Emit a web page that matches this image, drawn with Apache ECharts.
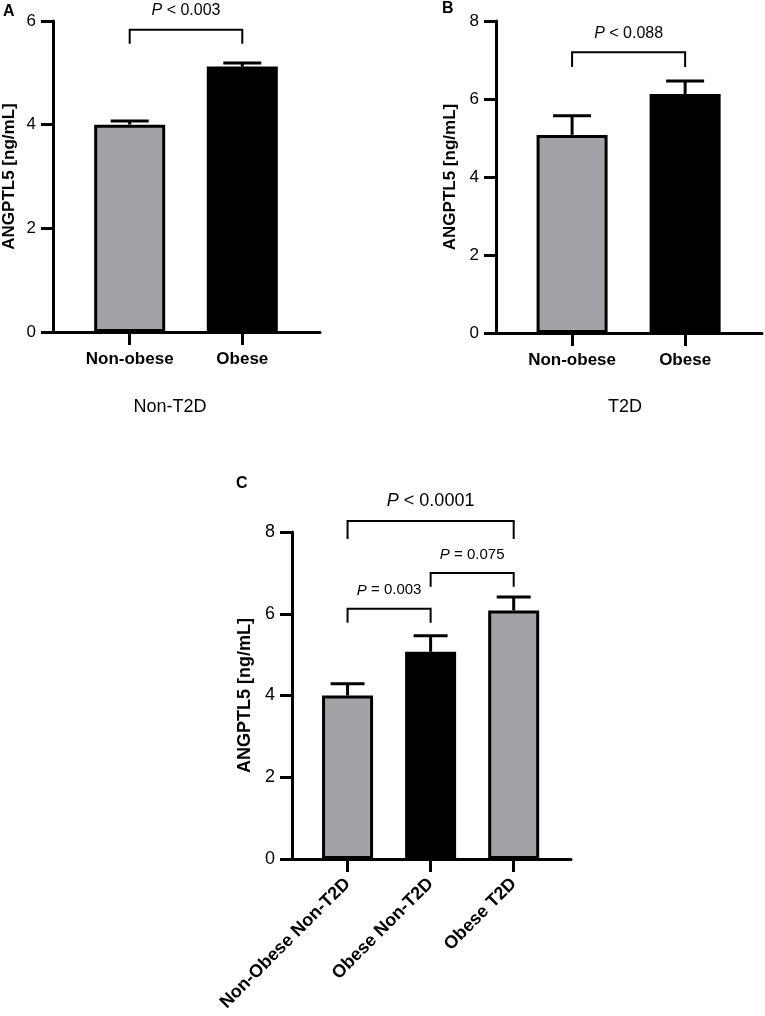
<!DOCTYPE html>
<html>
<head>
    <meta charset="utf-8">
    <title>ANGPTL5</title>
    <script src="https://cdn.jsdelivr.net/npm/echarts@6/dist/echarts.min.js"></script>
    <style>
    html, body { margin: 0; padding: 0; background: #fff; }
    #main { width: 765px; height: 1016px; }
    </style>
</head>
<body>
<div id="main"></div>
<script>
// values (mean and upper error)
const catsAB = ['Non-obese', 'Obese'];
const meanA = [4.0, 5.12];
const errA = [0.07, 0.07];
const meanB = [5.08, 6.13];
const errB = [0.49, 0.33];
const catsC = ['Non-Obese Non-T2D', 'Obese Non-T2D', 'Obese T2D'];
const meanC = [4.0, 5.07, 6.08];
const errC = [0.29, 0.39, 0.33];

// significance brackets: [from, to, top level, leg end]
const bracketA = [[0, 1, 5.83, 5.56]];
const pTextA = ['< 0.003'];
const bracketB = [[0, 1, 7.2, 6.82]];
const pTextB = ['< 0.088'];
const bracketC = [[0, 2, 8.27, 7.83], [0, 1, 6.12, 5.78], [1, 2, 7.0, 6.66]];
const pTextC = ['< 0.0001', '= 0.003', '= 0.075'];

const GRAY = '#a3a2a7';
const fillAB = [GRAY, '#000'];
const fillC = [GRAY, '#000', GRAY];
const FONT = 'Liberation Sans, Arial, sans-serif';

const chart = echarts.init(document.getElementById('main'));

function yAxis(idx, max, gap, fs) {
    return {
        type: 'value', gridIndex: idx, min: 0, max: max, interval: 2,
        name: 'ANGPTL5 [ng/mL]', nameLocation: 'middle', nameGap: gap,
        nameTextStyle: { fontFamily: FONT, fontWeight: 'bold', fontSize: fs, color: '#000' },
        axisLine: { show: true, onZero: false, lineStyle: { color: '#000', width: 3 } },
        axisTick: { show: true, length: 12, lineStyle: { color: '#000', width: 3 } },
        axisLabel: { fontFamily: FONT, fontSize: fs, color: '#000', margin: 17 },
        splitLine: { show: false }
    };
}

function xAxis(idx, cats, min, max) {
    const ticks = cats.map((c, i) => i);
    return {
        type: 'value', gridIndex: idx, min: min, max: max,
        axisLine: { show: true, onZero: false, lineStyle: { color: '#000', width: 3 } },
        axisTick: { show: true, customValues: ticks, length: 13, lineStyle: { color: '#000', width: 3 } },
        axisLabel: {
            customValues: ticks, formatter: v => cats[Math.round(v)] || '',
            fontFamily: FONT, fontWeight: 'bold', fontSize: 17, color: '#000', margin: 19
        },
        splitLine: { show: false }
    };
}

function bars(idx, means, fills, w) {
    return {
        type: 'bar', xAxisIndex: idx, yAxisIndex: idx, barWidth: w,
        data: means.map((m, i) => [i, m]),
        itemStyle: {
            color: p => fills[p.dataIndex],
            borderColor: '#000', borderWidth: 3
        },
        z: 2
    };
}

function errorBars(idx, means, errs, cap) {
    return {
        type: 'custom', xAxisIndex: idx, yAxisIndex: idx, z: 3,
        data: means.map((m, i) => [i, m, m + errs[i]]),
        renderItem: function (params, api) {
            const lo = api.coord([api.value(0), api.value(1)]);
            const hi = api.coord([api.value(0), api.value(2)]);
            const st = { stroke: '#000', lineWidth: 3 };
            return {
                type: 'group', children: [
                    { type: 'line', shape: { x1: lo[0], y1: lo[1], x2: hi[0], y2: hi[1] }, style: st },
                    { type: 'line', shape: { x1: hi[0] - cap / 2, y1: hi[1], x2: hi[0] + cap / 2, y2: hi[1] }, style: st }
                ]
            };
        }
    };
}

function brackets(idx, list, texts, fontSizes) {
    return {
        type: 'custom', xAxisIndex: idx, yAxisIndex: idx, z: 4, clip: false,
        data: list,
        renderItem: function (params, api) {
            const i = params.dataIndex;
            const a = api.coord([api.value(0), api.value(2)]);
            const b = api.coord([api.value(1), api.value(2)]);
            const la = api.coord([api.value(0), api.value(3)]);
            const fs = fontSizes[i];
            return {
                type: 'group', children: [
                    {
                        type: 'polyline',
                        shape: { points: [[la[0], la[1]], [a[0], a[1]], [b[0], b[1]], [b[0], la[1]]] },
                        style: { stroke: '#000', lineWidth: 2, fill: null }
                    },
                    {
                        type: 'text', x: (a[0] + b[0]) / 2, y: a[1] - 11,
                        style: {
                            text: '{i|P} ' + texts[i],
                            fontFamily: FONT, fontSize: fs, fill: '#000',
                            align: 'center', verticalAlign: 'bottom',
                            rich: { i: { fontFamily: FONT, fontSize: fs, fontStyle: 'italic', fill: '#000' } }
                        }
                    }
                ]
            };
        }
    };
}

const textStyle = (fs, weight) => ({ fontFamily: FONT, fontSize: fs, fontWeight: weight, fill: '#000' });

const option = {
    backgroundColor: '#fff',
    animation: false,
    grid: [
        { left: 52, top: 21, width: 268, height: 311 },
        { left: 496, top: 21, width: 266, height: 312 },
        { left: 292, top: 532, width: 279, height: 327 }
    ],
    xAxis: [
        xAxis(0, catsAB, -0.681, 1.69),
        xAxis(1, catsAB, -0.673, 1.68),
        xAxis(2, catsC, -0.669, 2.69)
    ],
    yAxis: [
        yAxis(0, 6, 35, 17),
        yAxis(1, 8, 37, 17),
        yAxis(2, 8, 38, 18)
    ],
    series: [
        bars(0, meanA, fillAB, 71),
        errorBars(0, meanA, errA, 38),
        brackets(0, bracketA, pTextA, [16]),
        bars(1, meanB, fillAB, 71),
        errorBars(1, meanB, errB, 38),
        brackets(1, bracketB, pTextB, [16]),
        bars(2, meanC, fillC, 51),
        errorBars(2, meanC, errC, 34),
        brackets(2, bracketC, pTextC, [18, 15, 15])
    ],
    graphic: [
        { type: 'text', x: 3, y: 4, style: Object.assign({ text: 'A' }, textStyle(16, 'bold')) },
        { type: 'text', x: 442, y: 1, style: Object.assign({ text: 'B' }, textStyle(16, 'bold')) },
        { type: 'text', x: 236, y: 476, style: Object.assign({ text: 'C' }, textStyle(16, 'bold')) },
        { type: 'text', x: 170, y: 407, style: Object.assign({ text: 'Non-T2D', align: 'center', verticalAlign: 'middle' }, textStyle(18, 'normal')) },
        { type: 'text', x: 625, y: 407, style: Object.assign({ text: 'T2D', align: 'center', verticalAlign: 'middle' }, textStyle(18, 'normal')) }
    ]
};
option.xAxis[2].axisLabel.rotate = 45;
option.xAxis[2].axisLabel.margin = 22;
option.xAxis[2].axisLabel.fontSize = 18;

chart.setOption(option);
</script>
</body>
</html>
